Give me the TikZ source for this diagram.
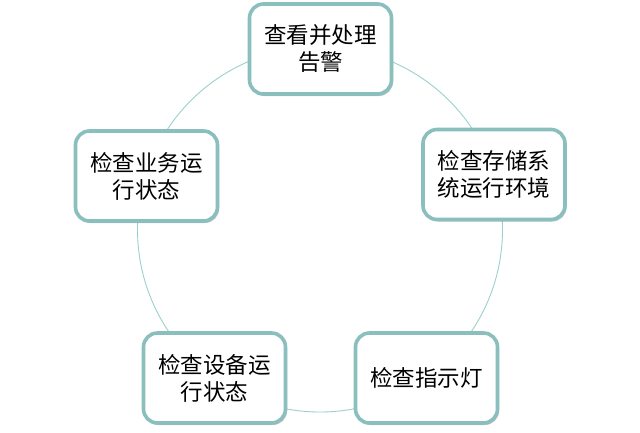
\documentclass[tikz,border=0pt]{standalone}
\usepackage{fontspec}
\newfontfamily\cjk{Noto Sans CJK SC}
\usetikzlibrary{shadows}

\definecolor{boxteal}{HTML}{8ABFBE}
\definecolor{ringteal}{HTML}{9ACFCF}

\begin{document}
\begin{tikzpicture}[x=1pt, y=-1pt,
    step box/.style={draw=boxteal, line width=3.6pt, rounded corners=14pt, fill=white,
        minimum width=142pt, minimum height=90pt, align=center,
        font=\cjk\fontsize{22.5}{27}\selectfont,
        drop shadow={shadow xshift=1.5pt, shadow yshift=-2pt, opacity=0.35, fill=black!60}}]
            \useasboundingbox (0,0) rectangle (640,432);
            % ==== RING ====
            \draw[ringteal, line width=0.9pt] (320,229.5) circle[radius=182.5];
            % ==== STEPS ====
            \node[step box] (alarm)   at (320.5,49)   {查看并处理\\告警};
            \node[step box] (storage) at (494,174.5)  {检查存储系\\统运行环境};
            \node[step box] (light)   at (426.5,378)  {检查指示灯};
            \node[step box] (device)  at (214.5,378)  {检查设备运\\行状态};
            \node[step box] (service) at (146.5,176)  {检查业务运\\行状态};
         \end{tikzpicture}
\end{document}
